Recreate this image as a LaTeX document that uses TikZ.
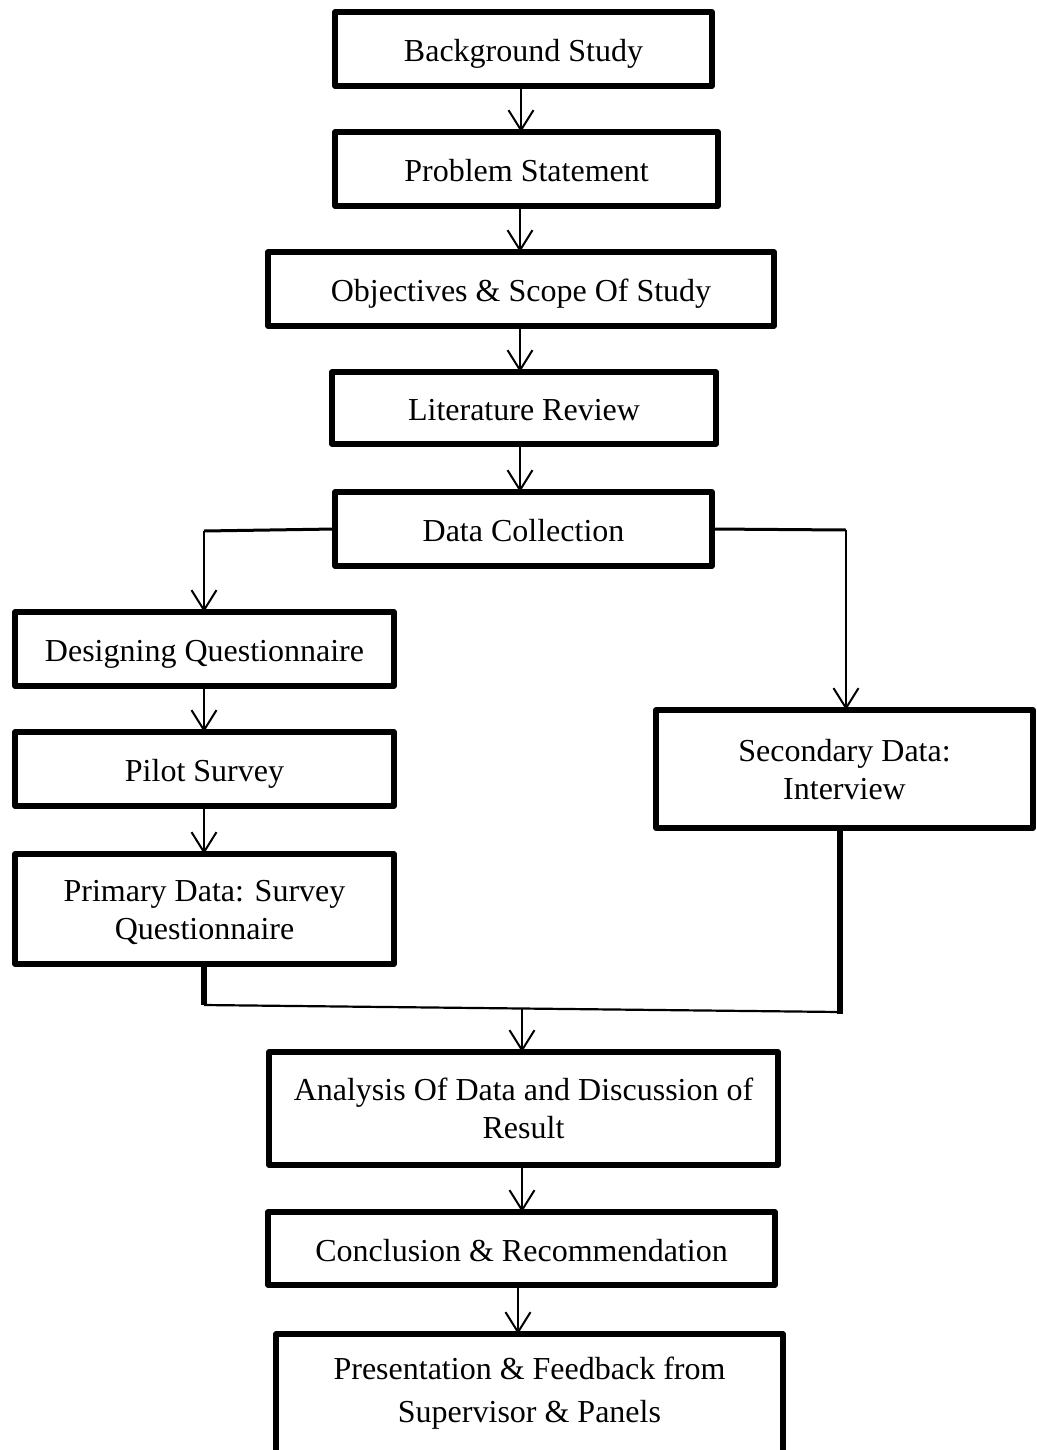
\documentclass[tikz,border=0pt]{standalone}
\usepackage{fontspec}
\setmainfont{Liberation Serif}
\usetikzlibrary{arrows.meta}
\begin{document}
\begin{tikzpicture}[x=0.5pt,y=-0.5pt,
  box/.style={draw,line width=2.6pt,rectangle,inner sep=0pt,outer sep=0pt,align=center,
    font=\fontsize{16pt}{19pt}\selectfont,line join=round},
  oneline/.style={box,text height=12.5pt,text depth=0pt},
  twoline/.style={box,text height=30pt,text depth=0pt},
  arr/.style={line width=1pt,-{Straight Barb[length=10pt,width=12.5pt,line width=1pt]}},
  link/.style={line width=1.5pt},
  thick link/.style={line width=2.6pt}]
\useasboundingbox (0,0) rectangle (1037,1450);
\clip (0,0) rectangle (1037,1450);
\node[oneline,minimum width=188.5pt,minimum height=37pt] (bg) at (523.5,49) {Background Study};
\node[oneline,minimum width=191.5pt,minimum height=37pt] (ps) at (526.5,169) {Problem Statement};
\node[oneline,minimum width=253pt,minimum height=37pt] (obj) at (521,289) {Objectives \& Scope Of Study};
\node[oneline,minimum width=192pt,minimum height=36pt] (lit) at (524,408) {Literature Review};
\node[oneline,minimum width=188.5pt,minimum height=37pt] (dc) at (523.5,529) {Data Collection};
\node[oneline,minimum width=189.5pt,minimum height=37pt] (dq) at (204.5,649) {Designing Questionnaire};
\node[oneline,minimum width=189.5pt,minimum height=37pt] (pil) at (204.5,769) {Pilot Survey};
\node[twoline,minimum width=189.5pt,minimum height=55pt] (prim) at (204.5,909) {Primary Data: Survey\\Questionnaire};
\node[twoline,minimum width=188.5pt,minimum height=59pt] (sec) at (844.5,769) {Secondary Data:\\Interview};
\node[twoline,minimum width=254.5pt,minimum height=56.5pt] (ana) at (523.5,1108.5) {Analysis Of Data and Discussion of\\Result};
\node[oneline,minimum width=253.5pt,minimum height=36.5pt] (con) at (521.5,1248.5) {Conclusion \& Recommendation};
\node[box,minimum width=253.5pt,minimum height=66pt,text height=22pt,text depth=0pt,
  font=\fontsize{16pt}{21.5pt}\selectfont] (pres) at (529.5,1400) {Presentation \& Feedback from\\Supervisor \& Panels};
% vertical chain
\draw[arr] (521,88) coordinate (a1) -- (a1 |- ps.north);
\draw[arr] (520,208) coordinate (a2) -- (a2 |- obj.north);
\draw[arr] (520,328) coordinate (a3) -- (a3 |- lit.north);
\draw[arr] (520,446) coordinate (a4) -- (a4 |- dc.north);
% split
\coordinate (lj) at (204,531);
\coordinate (rj) at (846,530);
\draw[link] (dc.west) -- (lj);
\draw[arr] (lj) -- (lj |- dq.north);
\draw[link] (dc.east) -- (rj);
\draw[arr] (rj) -- (rj |- sec.north);
\draw[arr] (204,688) coordinate (a5) -- (a5 |- pil.north);
\draw[arr] (204,808) coordinate (a6) -- (a6 |- prim.north);
% merge
\coordinate (ml) at (204,1005);
\coordinate (mr) at (840,1012);
\coordinate (mm) at (522,1008);
\draw[thick link] (ml |- prim.south) -- (ml);
\draw[line width=1.1pt] (ml) -- (mr);
\draw[line width=3.4pt] (mr |- sec.south) -- ([yshift=-1pt]mr);
\draw[arr] (mm) -- (mm |- ana.north);
\draw[arr] (522,1167) coordinate (a7) -- (a7 |- con.north);
\draw[arr] (518,1287) coordinate (a8) -- (a8 |- pres.north);
\end{tikzpicture}
\end{document}
